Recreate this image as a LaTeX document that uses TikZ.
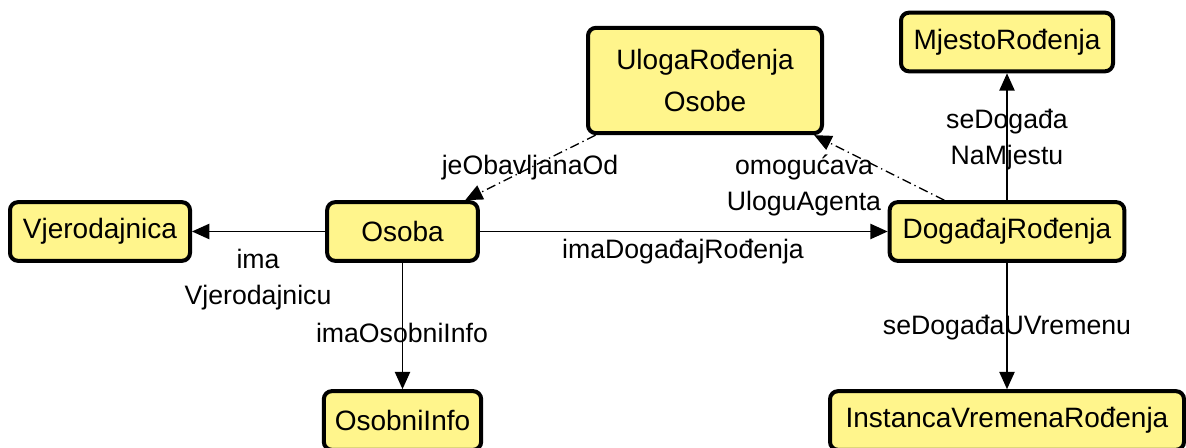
\documentclass[tikz,border=0pt]{standalone}
\usepackage{fontspec}
\setmainfont{Liberation Sans}
\usepackage{xcolor}
\usetikzlibrary{arrows.meta,positioning}
\definecolor{conceptfill}{RGB}{255,245,140}
\newcommand{\conceptfont}{\fontsize{21}{31}\selectfont}
\newcommand{\relfont}{\fontsize{20}{27}\selectfont}

\tikzset{
  concept/.style={draw=black,line width=3pt,rounded corners=6pt,fill=conceptfill,
    inner sep=0pt,minimum height=44pt,align=center,font=\conceptfont},
  rel/.style={-{Triangle[length=13pt,width=11.5pt]},line width=1pt},
  rolerel/.style={rel,dash pattern=on 7pt off 3pt on 1pt off 3pt},
  rellabel/.style={align=center,inner sep=0pt,font=\relfont},
}

\begin{document}
\begin{tikzpicture}[x=0.75pt,y=-0.75pt]
  \clip (0,0) rectangle (1186,448);
  % concepts
  \node[concept,minimum width=135pt] (vjer) at (100,231.5) {Vjerodajnica};
  \node[concept,minimum width=113pt] (osoba) at (402.5,231.5) {Osoba};
  \node[concept,minimum width=175.5pt,minimum height=79pt] (uloga) at (705,80.5)
    {UlogaRođenja\\Osobe};
  \node[concept,minimum width=159pt] (mjesto) at (1007,42) {MjestoRođenja};
  \node[concept,minimum width=176pt] (dogadaj) at (1007,231.5) {DogađajRođenja};
  \node[concept,minimum width=118pt] (osobni) at (402.5,420.5) {OsobniInfo};
  \node[concept,minimum width=265.5pt] (instanca) at (1007,420.5)
    {InstancaVremenaRođenja};

  % relations
  \draw[rel] (osoba) -- (vjer);
  \draw[rel] (osoba) -- (dogadaj);
  \draw[rel] (osoba) -- (osobni);
  \draw[rel] (dogadaj) -- (mjesto);
  \draw[rel] (dogadaj) -- (instanca);
  \draw[rolerel] (uloga) -- (osoba);
  \draw[rolerel] (dogadaj) -- (uloga);

  % relation labels
  \node[rellabel] (lblVjer) at (258,280) {ima\\Vjerodajnicu};
  \node[rellabel] (lblDogadaj) at (683,252) {imaDogađajRođenja};
  \node[rellabel] (lblOsobni) at (402,333) {imaOsobniInfo};
  \node[rellabel] (lblObavljana) at (530,168) {jeObavljanaOd};
  \node[rellabel] (lblAgent) at (804,185) {omogućava\\UloguAgenta};
  \node[rellabel] (lblMjesto) at (1007,140) {seDogađa\\NaMjestu};
  \node[rellabel] (lblVrijeme) at (1007,328) {seDogađaUVremenu};
\end{tikzpicture}
\end{document}
